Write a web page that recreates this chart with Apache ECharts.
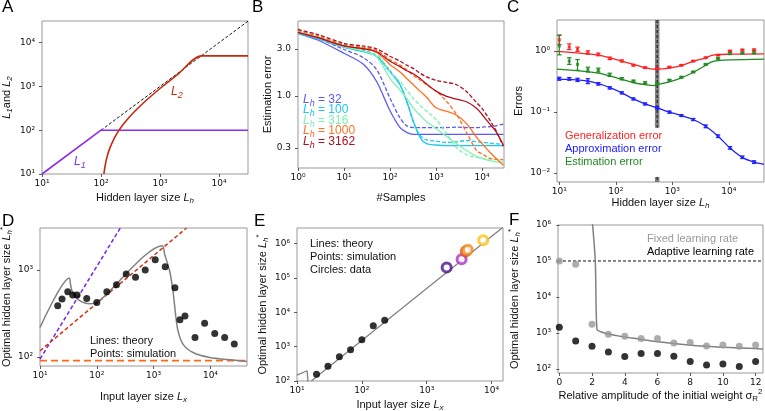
<!DOCTYPE html>
<html><head><meta charset="utf-8">
<script src="https://cdn.jsdelivr.net/npm/echarts@6/dist/echarts.min.js"></script>
<style>html,body{margin:0;padding:0;background:#fff}#c{width:765px;height:411px}</style>
</head><body><div id="c"></div>
<script>
// ---------------- DATA ----------------
// Panel A
const aL1X = [10, 100, 31000];
const aL1Y = [10, 100, 100];
const aL2X = [112, 114, 118, 125, 140, 170, 200, 250, 350, 500, 700, 1000, 2000, 5100, 31000];
const aL2Y = [10, 12, 16, 23, 38, 68, 98, 148, 248, 398, 598, 898, 1898, 5000, 5000];
const aDiagX = [100, 31600];
const aDiagY = [100, 31600];
// Panel B
const bX = [1, 2.6, 10, 26, 51, 100, 165, 230, 320, 450, 625, 1000, 1700, 2800, 4700, 7700, 10000, 14800, 20000, 29000];
const bS32  = [4.3, 3.7, 2.7, 2.1, 1.4, 0.71, 0.48, 0.43, 0.41, 0.41, 0.41, 0.41, 0.41, 0.41, 0.41, 0.41, 0.41, 0.41, 0.41, 0.41];
const bD32  = [4.45, 3.85, 2.95, 2.45, 1.85, 0.95, 0.6, 0.5, 0.48, 0.48, 0.48, 0.48, 0.48, 0.485, 0.48, 0.48, 0.485, 0.49, 0.5, 0.52];
const bS100 = [4.3, 3.8, 3.1, 2.8, 2.5, 1.75, 1.3, 0.88, 0.56, 0.38, 0.33, 0.32, 0.315, 0.315, 0.315, 0.315, 0.315, 0.315, 0.315, 0.315];
const bD100 = [4.45, 3.9, 3.2, 2.9, 2.55, 1.8, 1.3, 0.9, 0.55, 0.4, 0.36, 0.35, 0.34, 0.345, 0.355, 0.345, 0.34, 0.335, 0.33, 0.325];
const bS316 = [4.45, 3.9, 3.15, 2.85, 2.5, 1.5, 1.15, 0.95, 0.76, 0.64, 0.55, 0.47, 0.39, 0.33, 0.28, 0.245, 0.235, 0.222, 0.216, 0.215];
const bD316 = [4.6, 4.0, 3.3, 3.0, 2.7, 1.75, 1.4, 1.15, 0.95, 0.8, 0.7, 0.58, 0.42, 0.3, 0.255, 0.24, 0.235, 0.23, 0.228, 0.228];
const bS1000 = [4.4, 3.9, 3.2, 3.0, 2.75, 2.07, 1.75, 1.5, 1.3, 1.12, 0.97, 0.76, 0.7, 0.64, 0.52, 0.38, 0.33, 0.27, 0.235, 0.2];
const bD1000 = [4.6, 4.05, 3.3, 3.1, 2.9, 2.33, 2.05, 1.85, 1.62, 1.45, 1.3, 1.12, 0.88, 0.65, 0.42, 0.28, 0.26, 0.235, 0.23, 0.228];
const bS3162 = [4.4, 3.9, 3.2, 3.0, 2.8, 2.24, 1.98, 1.8, 1.68, 1.5, 1.32, 1.12, 0.99, 0.93, 0.87, 0.75, 0.65, 0.52, 0.44, 0.32];
const bD3162 = [4.7, 4.2, 3.4, 3.2, 3.0, 2.52, 2.25, 2.05, 1.9, 1.7, 1.56, 1.44, 1.37, 1.3, 1.1, 0.85, 0.75, 0.57, 0.45, 0.31];
const bLabels = ['32', '100', '316', '1000', '3162'];
// Panel C
const cX = [10, 15, 21, 32, 49, 78, 128, 205, 330, 540, 890, 1450, 2350, 3900, 6450, 10500, 17400, 28000];
const cGen = [1.51, 1.16, 1.06, 0.93, 0.87, 0.75, 0.68, 0.58, 0.53, 0.51, 0.54, 0.58, 0.68, 0.77, 0.85, 0.99, 1.03, 1.04];
const cGenLo = [1.27, 1.05, 0.98, 0.88, 0.83, 0.72, 0.66, 0.565, 0.515, 0.5, 0.53, 0.57, 0.665, 0.755, 0.835, 0.97, 1.0, 1.01];
const cGenHi = [1.81, 1.3, 1.15, 1.0, 0.92, 0.79, 0.71, 0.6, 0.545, 0.525, 0.555, 0.595, 0.695, 0.79, 0.87, 1.02, 1.06, 1.07];
const cEst = [1.2, 0.68, 0.6, 0.49, 0.48, 0.40, 0.35, 0.32, 0.30, 0.29, 0.33, 0.37, 0.45, 0.60, 0.75, 0.90, 0.92, 0.93];
const cEstLo = [0.86, 0.6, 0.48, 0.45, 0.45, 0.38, 0.335, 0.31, 0.29, 0.28, 0.32, 0.36, 0.44, 0.585, 0.73, 0.87, 0.89, 0.9];
const cEstHi = [1.8, 0.77, 0.72, 0.54, 0.52, 0.43, 0.365, 0.33, 0.31, 0.30, 0.34, 0.38, 0.46, 0.615, 0.77, 0.93, 0.95, 0.96];
const cApp = [0.348, 0.348, 0.335, 0.318, 0.288, 0.247, 0.205, 0.163, 0.135, 0.116, 0.099, 0.087, 0.075, 0.058, 0.040, 0.0257, 0.018, 0.015];
const cAppLo = [0.33, 0.33, 0.315, 0.29, 0.275, 0.237, 0.197, 0.157, 0.13, 0.111, 0.095, 0.084, 0.072, 0.055, 0.038, 0.0245, 0.0172, 0.0143];
const cAppHi = [0.37, 0.365, 0.355, 0.35, 0.302, 0.258, 0.213, 0.169, 0.14, 0.121, 0.103, 0.09, 0.078, 0.061, 0.042, 0.027, 0.0189, 0.0158];
const cLineX = [9.1, 49, 128, 206, 330, 470, 550, 890, 1450, 2400, 3900, 5000, 6450, 10500, 42000];
const cGenLine = [0.98, 0.85, 0.68, 0.6, 0.53, 0.5, 0.5, 0.52, 0.57, 0.68, 0.77, 0.84, 0.87, 0.88, 0.89];
const cEstLine = [0.5, 0.43, 0.34, 0.3, 0.28, 0.27, 0.28, 0.31, 0.36, 0.45, 0.58, 0.66, 0.69, 0.71, 0.73];
const cAppLineX = [9.1, 10, 20, 32, 49, 79, 128, 206, 330, 550, 890, 1450, 2350, 3900, 6450, 10500, 17400, 28000, 42000];
const cAppLine = [0.35, 0.345, 0.335, 0.318, 0.29, 0.25, 0.205, 0.163, 0.135, 0.116, 0.099, 0.087, 0.075, 0.058, 0.040, 0.0257, 0.018, 0.015, 0.0138];
const cBandX = [540, 540];
const cBandTop = [3.2, 0.055];
const cBandBot = [0.0086, 0.0071];
// Panel D
const dDotX = [20.5, 24.4, 30.8, 37.7, 45, 66.5, 100, 150, 222, 329, 480, 711, 1067, 1600, 2370, 2900, 3560, 5350, 7900, 11900, 17800, 26300];
const dDotY = [389, 464, 563, 516, 516, 472, 425, 563, 678, 900, 824, 1000, 1315, 1092, 627, 269, 296, 168, 244, 187, 168, 141];
const dLineX = [10, 32.9, 34.5, 37, 42, 50, 60, 75, 92, 120, 1420, 1560, 1910, 2190, 2430, 2680, 3280, 4930, 9700, 25000, 44000];
const dLineY = [219, 809, 680, 560, 490, 445, 420, 410, 420, 465, 1905, 1528, 982, 578, 312, 201, 141, 113, 99, 92.5, 89];
const dPurpleX = [10, 260];
const dPurpleY = [95, 3050];
const dRedX = [10, 3790];
const dRedY = [118, 3040];
const dOrangeX = [10, 44000];
const dOrangeY = [91, 91];
// Panel E
const eDotX = [20, 30, 45, 67, 100, 150, 225];
const eDotY = [157, 267, 509, 813, 1590, 4050, 5930];
const eLineX = [16.6, 15000];
const eLineY = [100, 3.0e6];
const eJagX = [10, 14.3, 14.9];
const eJagY = [149, 199, 80];
const eCircX = [2030, 3450, 4000, 4300, 7430];
const eCircY = [2.02e5, 3.52e5, 6.0e5, 6.6e5, 1.26e6];
// Panel F
const fX = [0, 1, 2, 3, 4, 5, 6, 7, 8, 9, 10, 11, 12];
const fFixed = [1e5, 8.1e4, 1740, 918, 807, 696, 696, 527, 538, 436, 464, 427, 464];
const fAdapt = [1440, 600, 427, 297, 220, 267, 267, 225, 160, 129, 138, 116, 160];
const fLineX = [2.02, 2.2, 2.3, 2.5, 2.81, 3.83, 4.85, 5.87, 6.88, 7.9, 8.92, 9.93, 10.95, 12.45];
const fLineY = [1.2e6, 9.5e4, 1250, 1100, 980, 790, 681, 574, 516, 464, 427, 400, 383, 360];
const fDashX = [-0.08, 12.45];
const fDashY = [1e5, 1e5];

// ---------------- STYLE ----------------
const FONT = '"Liberation Sans", Arial, sans-serif';
const TFONT = '"DejaVu Sans", sans-serif';
const bColors = ['#5a5af0', '#1ec8ee', '#80f0b4', '#ff7020', '#b0101e'];
const eCircC = ['#4b1487', '#b030c0', '#e05a0a', '#f08a20', '#ffc014'];

const zip = (xs, ys) => xs.map((x, i) => [x, ys[i]]);
const toSup = n => String(n).split('').map(c => c === '-' ? '⁻' : '⁰¹²³⁴⁵⁶⁷⁸⁹'['0123456789'.indexOf(c)]).join('');
const powFmt = v => '10' + toSup(Math.round(Math.log10(v)));

function mkRich(size, color, ck) {
  const s = Math.round(size * 0.72);
  const base = {fontFamily: FONT, fontSize: size, lineHeight: size + 4};
  const sub = {fontFamily: FONT, fontSize: s, lineHeight: s, verticalAlign: 'bottom'};
  const sup = {fontFamily: FONT, fontSize: s, lineHeight: s, verticalAlign: 'top'};
  base[ck] = color; sub[ck] = color; sup[ck] = color;
  return {
    n: base, i: Object.assign({}, base, {fontStyle: 'italic'}),
    sub: sub, isub: Object.assign({}, sub, {fontStyle: 'italic'}), sup: sup
  };
}

function mkAxis(o) {
  const isLog = o.type === 'log';
  const ax = {
    type: o.type, gridIndex: o.g, min: o.min, max: o.max,
    axisLine: {show: false}, splitLine: {show: false},
    axisTick: {show: true, length: 3, inside: false, lineStyle: {color: '#333', width: 0.8}, customValues: o.ticks},
    axisLabel: {customValues: o.ticks, formatter: o.fmt || (isLog ? powFmt : (v => String(v))),
      fontFamily: TFONT, fontSize: 9, color: '#111', margin: o.margin == null ? 5 : o.margin},
    name: o.name, nameLocation: 'middle', nameGap: o.gap, nameMoveOverlap: false,
    nameTextStyle: {fontFamily: FONT, fontSize: 11, color: '#111', lineHeight: 15, rich: mkRich(11, '#111', 'color')}
  };
  if (isLog) ax.logBase = 10;
  return ax;
}

function ln(g, xs, ys, color, w, type, extra) {
  return Object.assign({type: 'line', xAxisIndex: g, yAxisIndex: g, data: zip(xs, ys),
    showSymbol: false, symbol: 'none', silent: true, clip: true, z: 3,
    lineStyle: {color: color, width: w, type: type || 'solid'}, itemStyle: {color: color}}, extra || {});
}
function sc(g, xs, ys, color, size, extra) {
  return Object.assign({type: 'scatter', xAxisIndex: g, yAxisIndex: g, data: zip(xs, ys),
    symbol: 'circle', symbolSize: size, silent: true, z: 4, itemStyle: {color: color}}, extra || {});
}
function errs(g, xs, lo, hi, color) {
  return {type: 'custom', xAxisIndex: g, yAxisIndex: g, silent: true, clip: true, z: 4,
    data: xs.map((x, i) => [x, lo[i], hi[i]]), encode: {x: 0, y: [1, 2]},
    renderItem: function (params, api) {
      const p1 = api.coord([api.value(0), api.value(1)]);
      const p2 = api.coord([api.value(0), api.value(2)]);
      const w = 2.2, st = {stroke: color, lineWidth: 1.2, fill: null};
      return {type: 'group', children: [
        {type: 'line', shape: {x1: p1[0], y1: p1[1], x2: p2[0], y2: p2[1]}, style: st},
        {type: 'line', shape: {x1: p1[0] - w, y1: p1[1], x2: p1[0] + w, y2: p1[1]}, style: st},
        {type: 'line', shape: {x1: p2[0] - w, y1: p2[1], x2: p2[0] + w, y2: p2[1]}, style: st}
      ]};
    }};
}
function gtext(x, y, str, color, size) {
  return {type: 'text', x: x, y: y, silent: true, z: 10,
    style: {text: str, fill: color, fontFamily: FONT, fontSize: size, align: 'left', verticalAlign: 'middle',
      rich: mkRich(size, color, 'fill')}};
}

const grids = [
  {left: 42, top: 21, width: 206, height: 153},
  {left: 298, top: 21, width: 206, height: 147},
  {left: 557, top: 20, width: 207, height: 162},
  {left: 40, top: 228, width: 207, height: 138},
  {left: 297, top: 228, width: 206, height: 153},
  {left: 558, top: 225, width: 205, height: 148}
].map(g => Object.assign({show: true, borderColor: '#999', borderWidth: 1, backgroundColor: 'rgba(0,0,0,0)',
  containLabel: false, outerBoundsMode: 'none'}, g));

const P = [10, 100, 1000, 10000];
const xAxes = [
  mkAxis({type: 'log', g: 0, min: 10, max: 31000, ticks: P, name: '{n|Hidden layer size }{i|L}{isub|h}', gap: 16}),
  mkAxis({type: 'log', g: 1, min: 1, max: 30000, ticks: [1, 10, 100, 1000, 10000], name: '#Samples', gap: 22}),
  mkAxis({type: 'log', g: 2, min: 9.1, max: 42000, ticks: P, name: '{n|Hidden layer size }{i|L}{isub|h}', gap: 13}),
  mkAxis({type: 'log', g: 3, min: 10, max: 44000, ticks: P, name: '{n|Input layer size }{i|L}{isub|x}', gap: 23}),
  mkAxis({type: 'log', g: 4, min: 10, max: 15000, ticks: P, name: '{n|Input layer size }{i|L}{isub|x}', gap: 16}),
  mkAxis({type: 'value', g: 5, min: -0.08, max: 12.45, ticks: [0, 2, 4, 6, 8, 10, 12],
    name: '{n|Relative amplitude of the initial weight σ}{sub|R}{sup|2}', gap: 15})
];
const yAxes = [
  mkAxis({type: 'log', g: 0, min: 10, max: 31300, ticks: P, name: '{i|L}{isub|1}{n|and }{i|L}{isub|2}', gap: 28, margin: 7}),
  mkAxis({type: 'log', g: 1, min: 0.1875, max: 5.72, ticks: [0.3, 1, 3], fmt: v => v.toFixed(1), name: 'Estimation error', gap: 23, margin: 7}),
  mkAxis({type: 'log', g: 2, min: 0.0071, max: 3.2, ticks: [0.01, 0.1, 1], name: 'Errors', gap: 31, margin: 7}),
  mkAxis({type: 'log', g: 3, min: 79, max: 3040, ticks: [100, 1000], name: '{n|Optimal hidden layer size }{i|L}{isub|h}{sup|*}', gap: 26, margin: 7}),
  mkAxis({type: 'log', g: 4, min: 100, max: 2.86e6, ticks: [100, 1e3, 1e4, 1e5, 1e6], name: '{n|Optimal hidden layer size }{i|L}{isub|h}{sup|*}', gap: 27, margin: 7}),
  mkAxis({type: 'log', g: 5, min: 77, max: 1e6, ticks: [100, 1e3, 1e4, 1e5, 1e6], name: '{n|Optimal hidden layer size }{i|L}{isub|h}{sup|*}', gap: 36, margin: 7})
];

const series = [];
// A
series.push(ln(0, aDiagX, aDiagY, '#111', 1, [3, 2]));
series.push(ln(0, aL1X, aL1Y, '#8a2ef0', 1.6));
series.push(ln(0, aL2X, aL2Y, '#c8280c', 1.6, 'solid', {smooth: 0.3}));
// B
const bSolid = [bS32, bS100, bS316, bS1000, bS3162];
const bDash = [bD32, bD100, bD316, bD1000, bD3162];
for (let k = 0; k < 5; k++) {
  series.push(ln(1, bX, bDash[k], bColors[k], 1.3, [4, 2], {smooth: 0.3}));
  series.push(ln(1, bX, bSolid[k], bColors[k], 1.3, 'solid', {smooth: 0.3}));
}
// C
series.push(ln(2, cBandX, cBandTop, 'rgba(110,110,110,0.85)', 4.5));
series.push(ln(2, cBandX, cBandBot, 'rgba(110,110,110,0.85)', 4.5));
series.push(ln(2, cBandX, cBandTop, '#111', 1, [3, 2]));
series.push(ln(2, cBandX, cBandBot, '#111', 1, [3, 2]));
series.push(ln(2, cLineX, cGenLine, '#ff2222', 1.3, 'solid', {smooth: 0.3}));
series.push(ln(2, cLineX, cEstLine, '#1f8a1f', 1.3, 'solid', {smooth: 0.3}));
series.push(ln(2, cAppLineX, cAppLine, '#2020ff', 1.3, 'solid', {smooth: 0.3}));
series.push(errs(2, cX, cGenLo, cGenHi, '#ff2222'));
series.push(errs(2, cX, cEstLo, cEstHi, '#1f8a1f'));
series.push(errs(2, cX, cAppLo, cAppHi, '#2020ff'));
series.push(sc(2, cX, cGen, '#ff2222', 3, {symbol: 'rect'}));
series.push(sc(2, cX, cEst, '#1f8a1f', 3, {symbol: 'rect'}));
series.push(sc(2, cX, cApp, '#2020ff', 3, {symbol: 'rect'}));
// D
series.push(ln(3, dOrangeX, dOrangeY, '#ff6a10', 1.6, [7, 4]));
series.push(ln(3, dPurpleX, dPurpleY, '#7a22f5', 1.5, [4, 2.5]));
series.push(ln(3, dRedX, dRedY, '#cc3311', 1.5, [4, 2.5]));
series.push(ln(3, dLineX, dLineY, '#808080', 1.5, 'solid', {smooth: 0.25}));
series.push(sc(3, dDotX, dDotY, '#000', 7));
// E
series.push(ln(4, eJagX, eJagY, '#808080', 1.3));
series.push(ln(4, eLineX, eLineY, '#808080', 1.3));
series.push(sc(4, eDotX, eDotY, '#000', 7));
series.push({type: 'scatter', xAxisIndex: 4, yAxisIndex: 4, silent: true, z: 5, symbol: 'circle', symbolSize: 9,
  data: eCircX.map((x, i) => ({value: [x, eCircY[i]], itemStyle: {color: '#fff', borderColor: eCircC[i], borderWidth: 3}}))});
// F
series.push(ln(5, fDashX, fDashY, '#111', 1, [3, 2]));
series.push(ln(5, fLineX, fLineY, '#808080', 1.5, 'solid', {smooth: 0.3}));
series.push(sc(5, fX, fFixed, '#999999', 7));
series.push(sc(5, fX, fAdapt, '#000', 7));

const graphics = [
  gtext(2, 7.5, 'A', '#000', 17), gtext(252, 7.5, 'B', '#000', 17), gtext(507, 7.5, 'C', '#000', 17),
  gtext(2, 221, 'D', '#000', 17), gtext(254, 221, 'E', '#000', 17), gtext(509, 220, 'F', '#000', 17),
  gtext(74, 162, '{i|L}{isub|1}', '#8a2ef0', 12),
  gtext(171, 92, '{i|L}{isub|2}', '#c8280c', 12),
  gtext(565, 136, 'Generalization error', '#ff2222', 11),
  gtext(565, 149, 'Approximation error', '#2020ff', 11),
  gtext(565, 162, 'Estimation error', '#1f8a1f', 11),
  gtext(90, 340.5, 'Lines: theory', '#111', 11),
  gtext(90, 353.5, 'Points: simulation', '#111', 11),
  gtext(310, 243.5, 'Lines: theory', '#111', 11),
  gtext(310, 256.5, 'Points: simulation', '#111', 11),
  gtext(310, 270, 'Circles: data', '#111', 11),
  gtext(647, 238.5, 'Fixed learning rate', '#999999', 11),
  gtext(647, 251.5, 'Adaptive learning rate', '#000', 11)
];
const bLegY = [99.5, 110, 120.5, 131, 141.5];
for (let k = 0; k < 5; k++) {
  graphics.push(gtext(303, bLegY[k], '{i|L}{isub|h}{n| = ' + bLabels[k] + '}', bColors[k], 12));
}

const chart = echarts.init(document.getElementById('c'), null, {renderer: 'canvas'});
chart.setOption({
  animation: false,
  backgroundColor: '#fff',
  grid: grids,
  xAxis: xAxes,
  yAxis: yAxes,
  series: series,
  graphic: {elements: graphics}
});
</script></body></html>
